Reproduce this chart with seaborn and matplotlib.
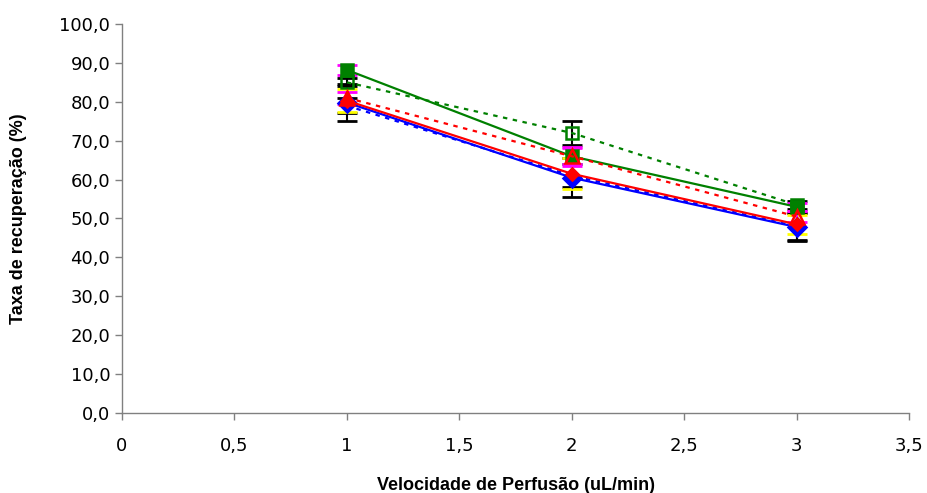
import numpy as np
import pandas as pd
import seaborn as sns
import matplotlib.pyplot as plt
from matplotlib.ticker import FuncFormatter

# dados
velocidade = [1, 2, 3]

verde_solido = [88.2, 66.0, 53.0]
verde_pont = [85.0, 72.0, 53.5]
verm_pont = [81.0, 66.0, 50.5]
verm_solido = [80.3, 61.5, 48.5]
azul_solido = [79.8, 60.5, 47.8]
azul_pont = [79.0, 61.0, 48.0]

err_verde_solido = [1.2, 2.5, 1.0]
err_verde_pont = [1.0, 3.0, 1.0]
err_verm_pont = [1.5, 2.0, 1.5]
err_verm_solido = [3.0, 4.0, 2.5]
err_azul_solido = [4.8, 5.0, 3.5]
err_azul_pont = [2.0, 3.0, 3.5]

sns.set_style("ticks")
plt.rcParams["font.family"] = ["Liberation Sans", "DejaVu Sans"]
plt.rcParams["text.color"] = "black"
plt.rcParams["axes.labelcolor"] = "black"
plt.rcParams["xtick.labelcolor"] = "black"
plt.rcParams["ytick.labelcolor"] = "black"

fig = plt.figure(figsize=(9.27, 4.93), dpi=100)
ax = fig.add_axes([0.1316, 0.1623, 0.849, 0.789])

pont = (0, (2, 2.5))
# valores, erro, cor, estilo, marcador, tamanho, cor do erro, preenchimento
series = [
    (azul_pont, err_azul_pont, "#0000ff", pont, None, 0, "black", None),
    (azul_solido, err_azul_solido, "#0000ff", "-", "D", 9, "black", "#0000ff"),
    (verm_solido, err_verm_solido, "#ff0000", "-", "D", 6, "#ffff00", "#ff0000"),
    (verde_pont, err_verde_pont, "#008000", pont, "s", 9, "black", "none"),
    (verde_solido, err_verde_solido, "#008000", "-", "s", 9, "#ff00ff", "#008000"),
    (verm_pont, err_verm_pont, "#ff0000", pont, "^", 10, "#ff00ff", "none"),
]

for vals, err, cor, ls, mk, ms, cor_err, face in series:
    ax.errorbar(velocidade, vals, yerr=err, fmt="none", ecolor=cor_err,
                elinewidth=1.5, capsize=7, capthick=2, zorder=2)

for vals, err, cor, ls, mk, ms, cor_err, face in series:
    df = pd.DataFrame({"x": velocidade, "y": vals})
    sns.lineplot(data=df, x="x", y="y", ax=ax, color=cor, linestyle=ls,
                 linewidth=1.6, marker=mk, markersize=ms,
                 markerfacecolor=face if face else cor,
                 markeredgecolor=cor, markeredgewidth=1.8, zorder=3)

ax.set_xlim(0, 3.5)
ax.set_ylim(0, 100)
ax.set_xticks(np.arange(0, 3.51, 0.5))
ax.set_yticks(np.arange(0, 100.1, 10))

ax.xaxis.set_major_formatter(FuncFormatter(lambda v, p: f"{v:g}".replace(".", ",")))
ax.yaxis.set_major_formatter(FuncFormatter(lambda v, p: f"{v:.1f}".replace(".", ",")))

ax.tick_params(axis="both", labelsize=13, length=5, width=1, color="#808080",
               labelcolor="black", direction="out")
ax.tick_params(axis="x", pad=12)
for lbl in ax.get_xticklabels() + ax.get_yticklabels():
    lbl.set_family(["DejaVu Sans"])

for s in ["top", "right"]:
    ax.spines[s].set_visible(False)
for s in ["left", "bottom"]:
    ax.spines[s].set_color("#808080")
    ax.spines[s].set_linewidth(1)

ax.set_xlabel("Velocidade de Perfusão (uL/min)", fontsize=13, fontweight="bold",
              labelpad=16, color="black")
ax.set_ylabel("Taxa de recuperação (%)", fontsize=13, fontweight="bold",
              labelpad=23, color="black")

plt.savefig("out.png", dpi=100)
